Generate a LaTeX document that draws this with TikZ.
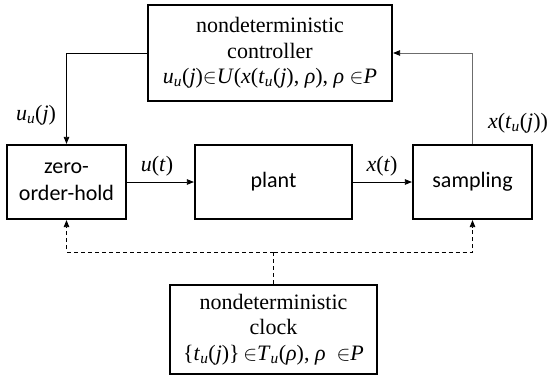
\documentclass[tikz,border=0pt]{standalone}
\usepackage{fontspec}
\setmainfont{Liberation Serif}
\newfontfamily\timesfam{Liberation Serif}
\newfontfamily\boxsans{Carlito}
\usetikzlibrary{arrows.meta}

% italic symbol and italic subscript
\newcommand{\vi}[1]{\textit{#1}}
\newcommand{\sbi}[1]{\textsubscript{\textit{#1}}}

\begin{document}
\begin{tikzpicture}[x=1pt,y=-1pt,
  blk/.style={draw, line width=2.2pt, inner sep=0pt, align=center},
  serifbox/.style={blk, font=\timesfam\fontsize{22}{25.5}\selectfont},
  sansbox/.style={blk, font=\boxsans\fontsize{22}{27}\selectfont},
  wire/.style={line width=0.8pt, -{Triangle[length=7pt,width=5.5pt]}},
  clk/.style={wire, dash pattern=on 4pt off 3pt},
  lab/.style={font=\timesfam\fontsize{22}{24}\selectfont, inner sep=0pt}]
\useasboundingbox (0,0) rectangle (548,380);

% blocks
\node[serifbox, minimum width=244pt, minimum height=96pt] (ctrl) at (270,53)
  {nondeterministic\\controller\\\vi{u}\sbi{u}(\vi{j})$\in$\vi{U}(\vi{x}(\vi{t}\sbi{u}(\vi{j}), \vi{ρ}), \vi{ρ} $\in$\vi{P}};
\node[sansbox, minimum width=119pt, minimum height=74pt] (zoh) at (66.5,182) {zero-\\order-hold};
\node[sansbox, minimum width=157pt, minimum height=74pt] (plant) at (273.5,182) {plant};
\node[sansbox, minimum width=119pt, minimum height=74pt] (samp) at (472.5,182) {sampling};
\node[serifbox, minimum width=207pt, minimum height=89pt] (clock) at (273.5,329.5)
  {nondeterministic\\clock\\\{\vi{t}\sbi{u}(\vi{j})\}$\,\in$\vi{T}\sbi{u}(\vi{ρ}), \vi{ρ}\ \ $\in$\vi{P}};

% signal connectors
\draw[wire] (ctrl.west) -| (zoh.north);
\draw[wire] (zoh) -- (plant);
\draw[wire] (plant) -- (samp);
\draw[line width=0.8pt, draw=gray!85!black, -{Triangle[length=7pt,width=5.5pt,color=black]}]
  (samp.north) |- (ctrl.east);

% clock connectors
\coordinate (bus) at (273.5,252);
\draw[clk, -] (clock.north) -- (bus);
\draw[clk] (bus) -| (zoh.south);
\draw[clk] (bus) -| (samp.south);

% signal labels
\node[lab] (luj) at (36,115) {\vi{u}\sbi{u}(\vi{j})};
\node[lab] (lut) at (157,166) {\vi{u}(\vi{t})};
\node[lab] (lxt) at (382,166) {\vi{x}(\vi{t})};
\node[lab] (lxs) at (518,123) {\vi{x}(\vi{t}\sbi{u}(\vi{j}))};
\end{tikzpicture}
\end{document}
